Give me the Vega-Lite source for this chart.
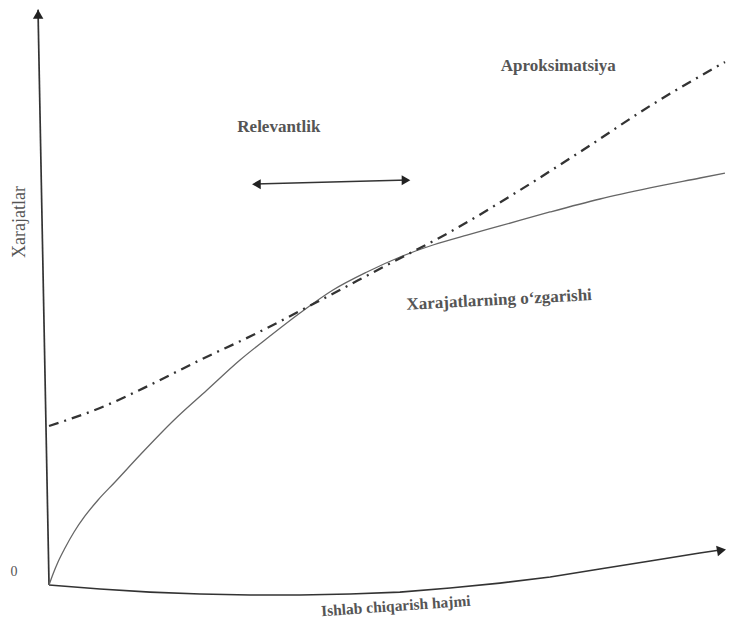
{
  "$schema": "https://vega.github.io/schema/vega-lite/v6.json",
  "width": 730,
  "height": 623,
  "autosize": {"type": "fit", "contains": "padding"},
  "padding": 0,
  "background": "#ffffff",
  "config": {"view": {"stroke": null}},
  "datasets": {
    "axes": [
      {"part": "yaxis", "x": 0, "y": 0},
      {"part": "yaxis", "x": -1.62, "y": 99.2},
      {"part": "xaxis", "x": 0, "y": 0},
      {"part": "xaxis", "x": 7.5, "y": -0.69},
      {"part": "xaxis", "x": 14.85, "y": -1.21},
      {"part": "xaxis", "x": 22.2, "y": -1.55},
      {"part": "xaxis", "x": 29.56, "y": -1.72},
      {"part": "xaxis", "x": 36.9, "y": -1.72},
      {"part": "xaxis", "x": 44.26, "y": -1.55},
      {"part": "xaxis", "x": 51.6, "y": -1.21},
      {"part": "xaxis", "x": 58.97, "y": -0.52},
      {"part": "xaxis", "x": 66.3, "y": 0.34},
      {"part": "xaxis", "x": 73.7, "y": 1.38},
      {"part": "xaxis", "x": 81.0, "y": 2.76},
      {"part": "xaxis", "x": 88.4, "y": 4.14},
      {"part": "xaxis", "x": 95.7, "y": 5.52},
      {"part": "xaxis", "x": 98.7, "y": 6.03},
      {"part": "relevance", "x": 30.29, "y": 69.14},
      {"part": "relevance", "x": 52.79, "y": 69.83}
    ],
    "costs": [
      {"x": 0, "y": 0},
      {"x": 0.59, "y": 1.9},
      {"x": 1.32, "y": 3.97},
      {"x": 2.35, "y": 6.38},
      {"x": 3.68, "y": 9.14},
      {"x": 5.29, "y": 11.9},
      {"x": 7.21, "y": 14.66},
      {"x": 9.71, "y": 17.76},
      {"x": 13.38, "y": 22.41},
      {"x": 18.24, "y": 28.28},
      {"x": 23.24, "y": 33.62},
      {"x": 28.09, "y": 38.79},
      {"x": 32.5, "y": 42.93},
      {"x": 36.91, "y": 46.9},
      {"x": 41.76, "y": 50.86},
      {"x": 46.76, "y": 53.97},
      {"x": 51.62, "y": 56.55},
      {"x": 56.47, "y": 58.62},
      {"x": 61.47, "y": 60.34},
      {"x": 66.32, "y": 61.9},
      {"x": 73.68, "y": 64.31},
      {"x": 81.03, "y": 66.55},
      {"x": 88.38, "y": 68.45},
      {"x": 95.74, "y": 70.17},
      {"x": 99.41, "y": 71.03}
    ],
    "approx": [
      {"x": 0, "y": 27.41},
      {"x": 7.5, "y": 30.52},
      {"x": 14.85, "y": 34.48},
      {"x": 22.21, "y": 38.79},
      {"x": 30.0, "y": 43.1},
      {"x": 39.41, "y": 48.79},
      {"x": 49.71, "y": 55.17},
      {"x": 58.97, "y": 60.86},
      {"x": 68.82, "y": 67.76},
      {"x": 78.53, "y": 75.0},
      {"x": 88.38, "y": 82.59},
      {"x": 99.41, "y": 90.17}
    ],
    "heads": [
      {"head": "up", "x": -1.6, "y": 98.4},
      {"head": "right", "x": 98.9, "y": 6.0},
      {"head": "left", "x": 30.5, "y": 69.1},
      {"head": "right2", "x": 52.5, "y": 69.8}
    ],
    "labels": [
      {"kind": "flat", "label": "Relevantlik", "x": 33.8, "y": 78.97},
      {"kind": "flat", "label": "Aproksimatsiya", "x": 74.9, "y": 89.48},
      {"kind": "zero", "label": "0", "x": -5.15, "y": 2.24},
      {"kind": "cost", "label": "Xarajatlarning o‘zgarishi", "x": 66.2, "y": 49.14},
      {"kind": "xtitle", "label": "Ishlab chiqarish hajmi", "x": 51.0, "y": -3.62},
      {"kind": "ytitle", "label": "Xarajatlar", "x": -4.26, "y": 62.59}
    ]
  },
  "encoding": {
    "x": {"field": "x", "type": "quantitative", "axis": null, "scale": {"domain": [-7.21, 100.15], "nice": false, "zero": false}},
    "y": {"field": "y", "type": "quantitative", "axis": null, "scale": {"domain": [-6.55, 100.86], "nice": false, "zero": false}}
  },
  "layer": [
    {
      "data": {"name": "axes"},
      "mark": {"type": "line", "color": "#333333", "strokeWidth": 1.7},
      "encoding": {"detail": {"field": "part", "type": "nominal"}}
    },
    {
      "data": {"name": "costs"},
      "mark": {"type": "line", "color": "#666666", "strokeWidth": 1.3, "interpolate": "monotone"}
    },
    {
      "data": {"name": "approx"},
      "mark": {"type": "line", "color": "#333333", "strokeWidth": 2.3, "strokeDash": [10, 6, 2, 6], "interpolate": "monotone"}
    },
    {
      "data": {"name": "heads"},
      "transform": [{"filter": "datum.head == 'up'"}],
      "mark": {"type": "point", "shape": "triangle-up", "filled": true, "color": "#222222", "size": 110, "opacity": 1}
    },
    {
      "data": {"name": "heads"},
      "transform": [{"filter": "datum.head == 'right'"}],
      "mark": {"type": "point", "shape": "triangle-right", "filled": true, "color": "#222222", "size": 110, "angle": -10, "opacity": 1}
    },
    {
      "data": {"name": "heads"},
      "transform": [{"filter": "datum.head == 'left'"}],
      "mark": {"type": "point", "shape": "triangle-left", "filled": true, "color": "#222222", "size": 100, "opacity": 1}
    },
    {
      "data": {"name": "heads"},
      "transform": [{"filter": "datum.head == 'right2'"}],
      "mark": {"type": "point", "shape": "triangle-right", "filled": true, "color": "#222222", "size": 100, "opacity": 1}
    },
    {
      "data": {"name": "labels"},
      "transform": [{"filter": "datum.kind == 'flat'"}],
      "mark": {"type": "text", "font": "Liberation Serif", "fontSize": 17, "fontWeight": "bold", "color": "#555555", "align": "center", "baseline": "middle"},
      "encoding": {"text": {"field": "label", "type": "nominal"}}
    },
    {
      "data": {"name": "labels"},
      "transform": [{"filter": "datum.kind == 'zero'"}],
      "mark": {"type": "text", "font": "Liberation Serif", "fontSize": 14, "color": "#555555", "align": "center", "baseline": "middle"},
      "encoding": {"text": {"field": "label", "type": "nominal"}}
    },
    {
      "data": {"name": "labels"},
      "transform": [{"filter": "datum.kind == 'cost'"}],
      "mark": {"type": "text", "font": "Liberation Serif", "fontSize": 17, "fontWeight": "bold", "color": "#555555", "align": "center", "baseline": "middle", "angle": -3},
      "encoding": {"text": {"field": "label", "type": "nominal"}}
    },
    {
      "data": {"name": "labels"},
      "transform": [{"filter": "datum.kind == 'xtitle'"}],
      "mark": {"type": "text", "font": "Liberation Serif", "fontSize": 15.5, "fontWeight": "bold", "color": "#555555", "align": "center", "baseline": "middle", "angle": -4},
      "encoding": {"text": {"field": "label", "type": "nominal"}}
    },
    {
      "data": {"name": "labels"},
      "transform": [{"filter": "datum.kind == 'ytitle'"}],
      "mark": {"type": "text", "font": "Liberation Serif", "fontSize": 18, "color": "#555555", "align": "center", "baseline": "middle", "angle": -90},
      "encoding": {"text": {"field": "label", "type": "nominal"}}
    }
  ]
}
